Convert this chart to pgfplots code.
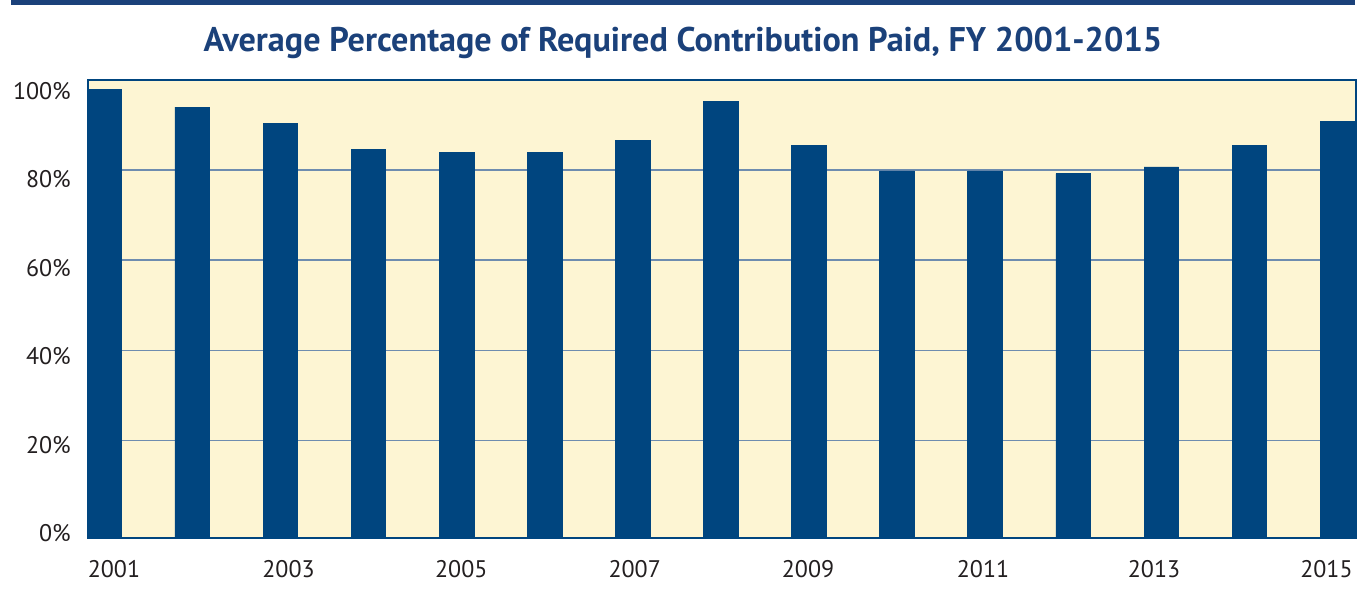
\documentclass[border=0pt]{standalone}
\usepackage{pgfplots}
\pgfplotsset{compat=1.18}
\usepackage{fontspec}
\setmainfont{PT Sans}
\definecolor{barblue}{RGB}{0,69,127}
\definecolor{bg}{RGB}{253,245,211}
\definecolor{gridc}{RGB}{110,140,175}
\definecolor{titleblue}{RGB}{27,65,122}
\definecolor{txt}{RGB}{35,31,32}
\begin{document}
\begin{tikzpicture}[x=1pt,y=1pt]
\path[use as bounding box] (0,0) rectangle (1365,604);
\fill[titleblue] (11,599) rectangle (1355,604);
\node[anchor=base, text=titleblue, font=\bfseries\fontsize{34.2}{38}\selectfont] at (683,552) {Average Percentage of Required Contribution Paid, FY 2001-2015};
\begin{axis}[
  at={(88pt,66pt)}, anchor=south west,
  width=1268pt, height=458pt, scale only axis,
  xmin=2000.816, xmax=2015.209,
  ymin=-1.7, ymax=100,
  axis background/.style={fill=bg},
  axis line style={draw=barblue, line width=2pt},
  major tick length=0pt,
  xtick={2001.111,2003.092,2005.053,2007.022,2008.989,2010.975,2012.916,2014.874},
  xticklabels={2001,2003,2005,2007,2009,2011,2013,2015},
  ytick={-0.67,18.98,38.62,58.27,77.91,97.56},
  yticklabels={0\%,20\%,40\%,60\%,80\%,100\%},
  extra y ticks={20,40,60,80},
  extra y tick labels={},
  extra y tick style={grid=major, major grid style={draw=gridc, line width=1.3pt}},
  xticklabel style={font=\fontsize{24}{28}\selectfont, text=txt, anchor=north, inner sep=0pt, yshift=-22pt},
  yticklabel style={font=\fontsize{24}{28}\selectfont, text=txt, anchor=east, inner sep=0pt, xshift=-17pt},
  ybar, bar width=0.393,
]
\addplot[fill=barblue, draw=barblue, line width=0.8pt, bar shift=0pt] coordinates {
(2001,-1.7) (2002,-1.7) (2003,-1.7) (2004,-1.7) (2005,-1.7)
(2006,-1.7) (2007,-1.7) (2008,-1.7) (2009,-1.7) (2010,-1.7)
(2011,-1.7) (2012,-1.7) (2013,-1.7) (2014,-1.7) (2015,-1.7)};
\addplot[fill=barblue, draw=barblue, line width=0.8pt, bar shift=0pt] coordinates {
(2001,97.8) (2002,94.0) (2003,90.4) (2004,84.5) (2005,83.9)
(2006,83.9) (2007,86.6) (2008,95.2) (2009,85.5) (2010,79.8)
(2011,79.8) (2012,79.2) (2013,80.7) (2014,85.5) (2015,90.7)};
\end{axis}
\end{tikzpicture}
\end{document}
